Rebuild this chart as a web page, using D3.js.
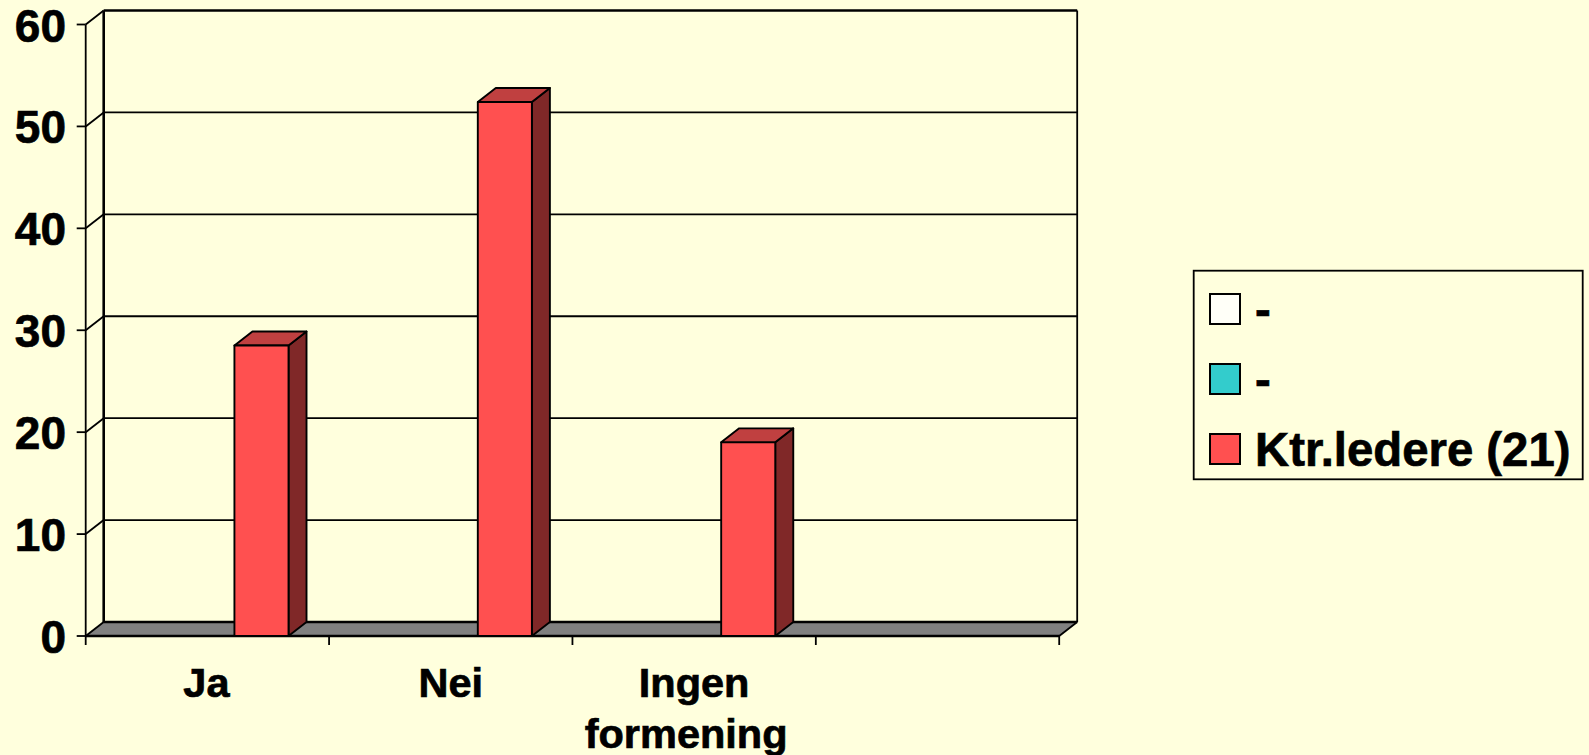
<!DOCTYPE html>
<html><head><meta charset="utf-8">
<script src="https://cdnjs.cloudflare.com/ajax/libs/d3/7.8.5/d3.min.js"></script>
<style>html,body{margin:0;padding:0;background:#FFFFDD;overflow:hidden}svg{display:block}text{font-family:"Liberation Sans",Arial,sans-serif;font-weight:700;fill:#000;stroke:#000;stroke-width:0.7px}</style>
</head><body><svg id="c" width="1589" height="755"></svg>
<script>
const categories = ["Ja","Nei","Ingen formening",""];
const categoryLines = [["Ja"],["Nei"],["Ingen","formening"],[]];
const seriesNames = ["-","-","Ktr.ledere (21)"];
const seriesColors = ["#FFFFF8","#33CCCC","#FF5050"];
const series3Values = [28.5,52.4,19.0,null];
const yTicks = [0,10,20,30,40,50,60];

const svg = d3.select("#c");
const DX = 18, DY = -14;
const x = d3.scaleBand().domain(categories).range([85.7,1059.2]);
const inner = d3.scaleBand().domain(d3.range(3)).range([0,x.bandwidth()]).paddingOuter(0.75).paddingInner(0);
const y = d3.scaleLinear().domain([0,60]).range([636,24.5]);
const x0 = x.range()[0], x1 = x.range()[1], yB = y(0), yT = y(60);
const line = (a,b,c,d,w)=>svg.append("line").attr("x1",a).attr("y1",b).attr("x2",c).attr("y2",d).attr("stroke","#000").attr("stroke-width",w);

// floor
svg.append("polygon").attr("points",[[x0,yB],[x0+DX,yB+DY],[x1+DX,yB+DY],[x1,yB]].join(" ")).attr("fill","#808080").attr("stroke","none");

// gridlines and side wall
yTicks.forEach(t=>{
  const yy = y(t);
  line(x0+DX,yy+DY,x1+DX,yy+DY,t===0||t===60?2.6:1.8);
  line(x0,yy,x0+DX,yy+DY,1.8);
  line(x0-9,yy,x0,yy,1.8);
});
line(x0+DX,yT+DY,x0+DX,yB+DY,2.6);
line(x1+DX,yT+DY,x1+DX,yB+DY,1.8);
line(x0,yT,x0,yB,1.8);
line(x1,yB,x1+DX,yB+DY,1.8);
line(x0,yB,x1,yB,2.6);
[...categories.map(c=>x(c)),x1].forEach(p=>line(p,yB,p,yB+9,1.8));

// bars
const g = svg.append("g").attr("stroke","#000").attr("stroke-width",1.9).attr("stroke-linejoin","round");
categories.forEach((c,i)=>{
  const v = series3Values[i];
  if(v==null) return;
  const l = x(c)+inner(2), r = l+inner.bandwidth(), t = y(v), b = y(0);
  g.append("polygon").attr("points",[[r,t],[r+DX,t+DY],[r+DX,b+DY],[r,b]].join(" ")).attr("fill","#802828");
  g.append("polygon").attr("points",[[l,t],[l+DX,t+DY],[r+DX,t+DY],[r,t]].join(" ")).attr("fill","#C04040");
  g.append("rect").attr("x",l).attr("y",t).attr("width",r-l).attr("height",b-t).attr("fill",seriesColors[2]);
});

// y labels
yTicks.forEach(t=>svg.append("text").attr("x",66).attr("y",y(t)+17).attr("text-anchor","end").attr("font-size",46).text(t));

// x labels
categories.forEach((c,i)=>{
  categoryLines[i].forEach((s,k)=>svg.append("text").attr("x",x(c)+x.bandwidth()/2-(k===1?8:0)-(i===0?1:0)).attr("y",696.5+k*51).attr("text-anchor","middle").attr("font-size",41.5).text(s));
});

// legend
svg.append("rect").attr("x",1193.7).attr("y",270.7).attr("width",389).attr("height",208.6).attr("fill","none").attr("stroke","#000").attr("stroke-width",1.8);
const ly = d3.scalePoint().domain(d3.range(3)).range([309,449]);
seriesNames.forEach((n,i)=>{
  svg.append("rect").attr("x",1210).attr("y",ly(i)-15).attr("width",30).attr("height",30).attr("fill",seriesColors[i]).attr("stroke","#000").attr("stroke-width",2);
  svg.append("text").attr("x",1255).attr("y",ly(i)+16.5).attr("font-size",47.3).text(n);
});
</script></body></html>
